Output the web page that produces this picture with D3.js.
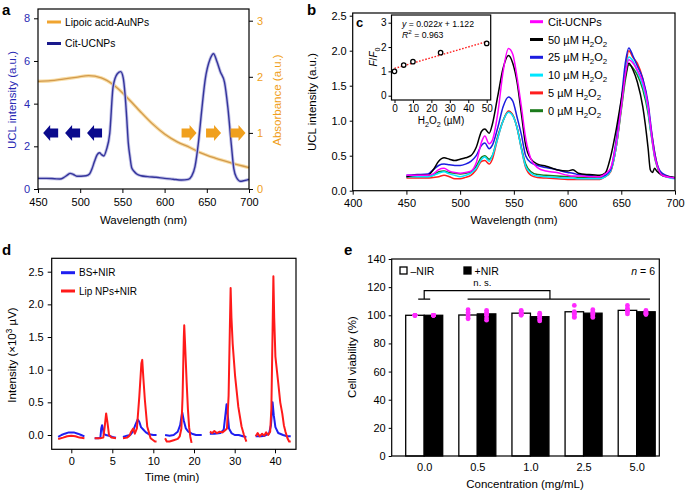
<!DOCTYPE html>
<html>
<head>
<meta charset="utf-8">
<script src="https://cdnjs.cloudflare.com/ajax/libs/d3/7.8.5/d3.min.js"></script>
<style>
  body { margin: 0; background: #fff; }
  svg { font-family: "Liberation Sans", Arial, sans-serif; }
</style>
</head>
<body>
<script>
// ---- panel a: UCL spectrum of Cit-UCNPs + absorbance of AuNPs
const ucnpWl  = [450,460,470,476,481,485,488,492,496,501,507,511,514,517,520,523,525,528,531,535,539,544,548,551,553,555,557,559,561,564,567,572,580,590,600,610,620,628,632,636,640,644,648,654,658,662,666,671,675,679,682,685,690,695,700];
const ucnpVal = [0.5,0.5,0.48,0.47,0.55,0.66,0.73,0.68,0.6,0.6,0.62,0.7,0.95,1.3,1.6,1.7,1.62,1.55,1.83,2.6,4.8,5.4,5.5,5.2,4.5,3.4,2.15,1.5,1.0,0.82,0.7,0.62,0.58,0.55,0.5,0.46,0.42,0.45,0.6,1.05,2.15,3.7,5.1,6.1,6.34,5.97,5.5,5.0,3.8,2.1,0.95,0.55,0.36,0.4,0.45];
const auWl  = [450,465,480,495,510,525,540,555,570,585,600,615,630,642,660,680,700];
const auAbs = [1.92,1.93,1.96,1.99,2.02,1.98,1.85,1.64,1.4,1.17,0.98,0.84,0.74,0.65,0.55,0.46,0.38];
const blueArrowWl = [465, 491, 517];
const orangeArrowWl = [629, 658, 687];

// ---- panel b: spectra with H2O2
const specWl = [450,460,470,475,480,485,490,495,500,505,510,515,520,523,527,530,535,540,545,549,553,557,561,566,572,580,590,600,605,610,620,630,635,640,645,650,654,657,661,665,670,675,677,679,681,683,688,700];
const specCit = [0.22,0.22,0.22,0.24,0.3,0.32,0.28,0.26,0.25,0.26,0.28,0.4,0.7,0.78,0.67,0.72,1.1,1.7,2.03,1.95,1.62,1.2,0.75,0.45,0.33,0.28,0.26,0.22,0.21,0.21,0.2,0.2,0.24,0.32,0.65,1.2,1.68,1.87,1.82,1.72,1.55,1.2,0.95,0.7,0.5,0.38,0.22,0.18];
const spec50  = [0.2,0.22,0.22,0.3,0.42,0.47,0.45,0.43,0.45,0.47,0.5,0.62,0.85,0.88,0.82,0.95,1.35,1.75,1.93,1.82,1.55,1.1,0.65,0.45,0.38,0.35,0.3,0.28,0.3,0.25,0.23,0.22,0.25,0.48,0.85,1.3,1.65,1.82,1.72,1.55,1.2,0.6,0.3,0.26,0.32,0.28,0.22,0.19];
const spec25  = [0.22,0.23,0.24,0.3,0.36,0.38,0.37,0.36,0.36,0.38,0.42,0.5,0.65,0.68,0.6,0.65,0.9,1.2,1.34,1.28,1.05,0.8,0.5,0.4,0.36,0.33,0.3,0.26,0.25,0.23,0.22,0.2,0.22,0.3,0.7,1.3,1.85,2.04,1.92,1.78,1.6,1.25,1.0,0.75,0.55,0.4,0.25,0.18];
const spec10  = [0.2,0.2,0.2,0.22,0.25,0.27,0.24,0.22,0.2,0.22,0.25,0.32,0.45,0.48,0.42,0.5,0.75,1.0,1.12,1.07,0.9,0.6,0.35,0.25,0.21,0.2,0.19,0.18,0.18,0.17,0.17,0.17,0.2,0.28,0.6,1.2,1.7,1.91,1.85,1.7,1.5,1.15,0.9,0.7,0.5,0.38,0.22,0.17];
const spec5   = [0.18,0.18,0.18,0.19,0.2,0.22,0.2,0.17,0.17,0.19,0.22,0.3,0.42,0.43,0.38,0.45,0.75,1.0,1.14,1.08,0.9,0.6,0.33,0.22,0.19,0.18,0.17,0.16,0.16,0.16,0.16,0.16,0.2,0.27,0.6,1.2,1.75,2.0,1.9,1.82,1.6,1.2,0.95,0.75,0.55,0.4,0.22,0.18];
const spec0   = [0.2,0.2,0.2,0.22,0.27,0.28,0.26,0.25,0.24,0.25,0.27,0.35,0.48,0.5,0.45,0.5,0.78,1.0,1.13,1.08,0.9,0.62,0.38,0.27,0.23,0.22,0.21,0.2,0.2,0.19,0.19,0.18,0.2,0.28,0.6,1.15,1.6,1.8,1.75,1.65,1.45,1.1,0.88,0.68,0.48,0.36,0.22,0.18];
const specNames  = ["Cit-UCNPs", "50", "25", "10", "5", "0"];
const specColors = ["#ff00ff", "#000000", "#1c1ce0", "#00e6ff", "#ff1e1e", "#1b7a1b"];

// ---- inset c: F/F0 vs H2O2
const h2o2Conc = [0, 5, 10, 25, 50];
const ratioF   = [1.0, 1.26, 1.4, 1.77, 2.15];
const fitSlope = 0.022, fitIntercept = 1.122;

// ---- panel d: traces, [time, value]
const bsTraces = [
  [[-1.6,-0.03],[-1.2,0.0],[-0.8,0.02],[-0.3,0.04],[0.3,0.04],[0.8,0.02],[1.2,0.0],[1.6,-0.02]],
  [[2.85,-0.05],[3.3,-0.05],[3.55,-0.04],[3.65,0.1],[3.75,0.15],[3.85,0.1],[3.95,0.02],[4.2,0.0],[4.6,-0.01],[5.0,-0.03],[5.45,-0.04]],
  [[6.3,-0.03],[6.8,-0.01],[7.2,0.0],[7.5,0.05],[7.8,0.15],[8.1,0.24],[8.3,0.2],[8.5,0.12],[8.8,0.08],[9.1,0.04],[9.5,0.01],[10,0.0],[10.8,0.0]],
  [[12.9,0.0],[14,-0.01],[15,0.0],[16,0.05],[16.6,0.15],[17.1,0.35],[17.5,0.22],[18,0.1],[18.6,0.05],[19.5,0.02],[20.5,0.0],[21.9,0.0]],
  [[23.9,0.02],[25,0.02],[26.5,0.03],[27.3,0.08],[27.7,0.3],[28.0,0.47],[28.3,0.3],[28.6,0.1],[29.2,0.03],[30,0.0],[31,0.0],[32,-0.02],[32.9,-0.03]],
  [[35.2,-0.02],[36.5,-0.02],[37.5,-0.01],[38.5,0.02],[39,0.15],[39.4,0.5],[39.7,0.3],[40.1,0.12],[40.8,0.03],[42,0.0],[43,-0.02],[43.9,-0.02]]
];
const lipTraces = [
  [[-1.6,-0.06],[-1.0,-0.04],[-0.5,-0.02],[0,-0.01],[0.5,-0.02],[1.0,-0.04],[1.6,-0.05]],
  [[2.85,-0.05],[3.5,-0.05],[3.9,-0.04],[4.05,0.1],[4.25,0.33],[4.4,0.2],[4.6,0.0],[4.9,-0.04],[5.45,-0.05]],
  [[6.3,-0.05],[6.8,-0.04],[7.1,-0.01],[7.3,0.05],[7.55,0.1],[7.75,0.02],[8.0,0.1],[8.3,0.6],[8.55,1.1],[8.65,1.15],[8.8,0.85],[8.97,0.54],[9.26,0.13],[9.67,-0.05],[10,-0.08],[10.4,-0.1],[10.8,-0.1]],
  [[12.9,-0.05],[13.3,-0.1],[14,-0.1],[15,-0.08],[16,-0.06],[16.5,-0.02],[16.9,0.1],[17.2,0.6],[17.5,1.5],[17.6,1.68],[17.8,1.4],[18.2,0.8],[18.5,0.4],[18.8,0.12],[19.1,-0.03],[19.4,-0.12]],
  [[23.9,0.05],[24.5,0.03],[25,0.06],[25.6,0.03],[26.3,0.05],[27,0.04],[27.6,0.07],[28.1,0.1],[28.5,0.6],[28.8,1.6],[29.0,2.25],[29.2,1.8],[29.5,1.4],[30.1,0.9],[30.9,0.43],[31.7,0.13],[32.3,0.0],[32.9,-0.1]],
  [[35.2,-0.02],[35.7,0.03],[36.2,-0.02],[36.8,0.02],[37.3,-0.01],[37.8,0.04],[38.3,0.0],[38.8,0.05],[39.1,0.4],[39.4,1.6],[39.6,2.43],[39.8,1.8],[40.1,1.2],[40.8,0.8],[41.3,0.5],[41.8,0.33],[42.2,0.15],[42.6,0.05],[43.1,-0.05],[43.5,-0.1],[43.9,-0.1]]
];
const timeTicks = [0, 5, 10, 20, 30, 40];

// ---- panel e: cell viability
const concCats = ["0.0", "0.5", "1.0", "2.5", "5.0"];
const viabNoNir = [100, 100.2, 101.5, 102.5, 103.5];
const viabNir   = [100, 101, 99, 101.5, 102.5];
const dotsNoNir = [[100,100,100,100,100,100],[104,102,100.5,99.5,98,97.5],[103.5,102.5,101.5,101,100.5,100],[107,102.5,101.5,100.5,99,98.5],[107,105,104,103,102.5,101]];
const dotsNir   = [[100,100,100,100,100,100],[103.5,102,101,100,98,96.5],[101.5,100.5,99,98.5,97,96],[104,102.5,101.5,100.5,99.5,98.5],[103.5,102.5,102,101.5,101,100.5]];

const svg = d3.select("body").append("svg").attr("width", 685).attr("height", 490);

// text with sub/superscripts: parts = [[text, mode]]
function rich(t, parts) {
  let shift = 0;
  parts.forEach(([s, m]) => {
    const sp = t.append("tspan").text(s);
    const target = m === "sub" ? 3 : m === "sup" ? -4 : 0;
    if (target - shift) sp.attr("dy", target - shift);
    shift = target;
    if (m === "sub" || m === "sup") sp.attr("font-size", "72%");
    if (m === "i") sp.attr("font-style", "italic");
  });
  return t;
}

function label(g, x, y, size, opts = {}) {
  const t = g.append("text").attr("x", x).attr("y", y).attr("font-size", size)
    .attr("text-anchor", opts.anchor || "start").attr("fill", opts.fill || "#000");
  if (opts.rotate) t.attr("transform", `rotate(-90,${x},${y})`);
  if (opts.bold) t.attr("font-weight", "bold");
  return t;
}

function styleAxis(g, color, size) {
  g.select(".domain").remove();
  g.selectAll(".tick line").attr("stroke", "#000").attr("stroke-width", 1);
  g.selectAll(".tick text").attr("fill", color).attr("font-size", size)
    .attr("font-family", "Liberation Sans, Arial, sans-serif");
}

function box(g, x0, y0, x1, y1, fill) {
  g.append("rect").attr("x", x0).attr("y", y0).attr("width", x1 - x0).attr("height", y1 - y0)
    .attr("fill", fill || "none").attr("stroke", "#000").attr("stroke-width", 1.2);
}

const fmtInt = d3.format("d"), fmt1 = d3.format(".1f");

// ================= panel a =================
{
  const g = svg.append("g");
  const x = d3.scaleLinear().domain([450, 700]).range([38, 249]);
  const yL = d3.scaleLinear().domain([0, 8]).range([189, 18.3]);
  const yR = d3.scaleLinear().domain([0, 3]).range([189, 20.7]);
  const blueTxt = "#2a2ab4", orangeTxt = "#f0a020";

  const au = d3.zip(auWl, auAbs);
  const lineR = d3.line().x(d => x(d[0])).y(d => yR(d[1])).curve(d3.curveMonotoneX);
  g.append("path").datum(au).attr("d", lineR).attr("fill", "none").attr("stroke", "#f8dca4").attr("stroke-width", 3.4);
  g.append("path").datum(au).attr("d", lineR).attr("fill", "none").attr("stroke", "#d29a4c").attr("stroke-width", 1.3);

  const uc = d3.zip(ucnpWl, ucnpVal);
  const lineL = d3.line().x(d => x(d[0])).y(d => yL(d[1])).curve(d3.curveMonotoneX);
  g.append("path").datum(uc).attr("d", lineL).attr("fill", "none").attr("stroke", "#c2c2e6").attr("stroke-width", 3.2);
  g.append("path").datum(uc).attr("d", lineL).attr("fill", "none").attr("stroke", "#34349c").attr("stroke-width", 1.4);

  const arrowL = "M-7.5,0L-0.5,-8L-0.5,-4.5L7.5,-4.5L7.5,4.5L-0.5,4.5L-0.5,8Z";
  const arrowR = "M7.5,0L0.5,-8L0.5,-4.5L-7.5,-4.5L-7.5,4.5L0.5,4.5L0.5,8Z";
  g.selectAll(".ab").data(blueArrowWl).join("path").attr("d", arrowL)
    .attr("transform", d => `translate(${x(d)},${yR(1)})`).attr("fill", "#0a0a8c");
  g.selectAll(".ao").data(orangeArrowWl).join("path").attr("d", arrowR)
    .attr("transform", d => `translate(${x(d)},${yR(1)})`).attr("fill", "#f0a01e");

  box(g, 38, 9, 249, 189);
  g.append("g").attr("transform", "translate(0,189)")
    .call(d3.axisBottom(x).tickValues(d3.range(450, 701, 50)).tickFormat(fmtInt).tickSize(4).tickPadding(5))
    .call(a => styleAxis(a, "#000", 11));
  g.append("g").attr("transform", "translate(38,0)")
    .call(d3.axisLeft(yL).tickValues([0, 2, 4, 6, 8]).tickFormat(fmtInt).tickSize(4).tickPadding(4))
    .call(a => styleAxis(a, blueTxt, 11));
  g.append("g").attr("transform", "translate(249,0)")
    .call(d3.axisRight(yR).tickValues([0, 1, 2, 3]).tickFormat(fmtInt).tickSize(4).tickPadding(4))
    .call(a => styleAxis(a, orangeTxt, 11));

  label(g, 143.5, 224, 11.5, { anchor: "middle" }).text("Wavelength (nm)");
  label(g, 16, 100, 11.5, { anchor: "middle", rotate: true, fill: blueTxt }).text("UCL intensity (a.u.)");
  label(g, 281, 100, 11.5, { anchor: "middle", rotate: true, fill: orangeTxt }).text("Absorbance (a.u.)");

  g.append("line").attr("x1", 47).attr("x2", 61).attr("y1", 22).attr("y2", 22).attr("stroke", "#f0a430").attr("stroke-width", 3);
  label(g, 65, 25.5, 10.3).text("Lipoic acid-AuNPs");
  g.append("line").attr("x1", 47).attr("x2", 61).attr("y1", 43.5).attr("y2", 43.5).attr("stroke", "#1a1a8c").attr("stroke-width", 3);
  label(g, 65, 47, 10.3).text("Cit-UCNPs");

  label(g, 2, 15, 15, { bold: true }).text("a");
}

// ================= panel b + inset c =================
{
  const g = svg.append("g");
  const x = d3.scaleLinear().domain([400, 700]).range([352.7, 675]);
  const y = d3.scaleLinear().domain([0, 2.5]).range([190.7, 15.7]);
  const series = [specCit, spec50, spec25, spec10, spec5, spec0];
  const line = d3.line().x(d => x(d[0])).y(d => y(d[1])).curve(d3.curveMonotoneX);
  // back-to-front: 0, 5, 10, 25, 50, Cit
  [5, 4, 3, 2, 1, 0].forEach(i => {
    g.append("path").datum(d3.zip(specWl, series[i])).attr("d", line)
      .attr("fill", "none").attr("stroke", specColors[i]).attr("stroke-width", 1.5);
  });

  box(g, 352.7, 13, 675, 190.7);
  g.append("g").attr("transform", "translate(0,190.7)")
    .call(d3.axisBottom(x).tickValues(d3.range(400, 701, 50)).tickFormat(fmtInt).tickSize(4).tickPadding(5))
    .call(a => styleAxis(a, "#000", 11));
  g.append("g").attr("transform", "translate(352.7,0)")
    .call(d3.axisLeft(y).tickValues(d3.range(0, 2.51, 0.5)).tickFormat(fmt1).tickSize(3).tickPadding(3))
    .call(a => styleAxis(a, "#000", 11));
  label(g, 514, 224, 11.5, { anchor: "middle" }).text("Wavelength (nm)");
  label(g, 316, 102, 11.5, { anchor: "middle", rotate: true }).text("UCL intensity (a.u.)");

  // legend
  specNames.forEach((n, i) => {
    const yy = 21.7 + i * 17.8;
    g.append("line").attr("x1", 530).attr("x2", 543).attr("y1", yy).attr("y2", yy)
      .attr("stroke", specColors[i]).attr("stroke-width", 3);
    const t = label(g, 548, yy + 4, 11);
    if (i === 0) t.text(n);
    else rich(t, [[n + " \u00b5M H"], ["2", "sub"], ["O"], ["2", "sub"]]);
  });

  // inset
  const xc = d3.scaleLinear().domain([0, 50]).range([394.5, 486.7]);
  const yc = d3.scaleLinear().domain([0, 3]).range([95.7, 22.7]);
  box(g, 391.5, 15, 490.7, 100, "#fff");
  g.append("line").attr("x1", xc(0)).attr("x2", xc(50))
    .attr("y1", yc(fitIntercept)).attr("y2", yc(fitIntercept + fitSlope * 50))
    .attr("stroke", "#ff2020").attr("stroke-width", 1.4).attr("stroke-dasharray", "1.6,1.6");
  g.selectAll(".pt").data(d3.zip(h2o2Conc, ratioF)).join("circle")
    .attr("cx", d => xc(d[0])).attr("cy", d => yc(d[1])).attr("r", 2.2)
    .attr("fill", "#fff").attr("stroke", "#000").attr("stroke-width", 1.3);
  g.append("g").attr("transform", "translate(0,100)")
    .call(d3.axisBottom(xc).tickValues(d3.range(0, 51, 10)).tickFormat(fmtInt).tickSize(3).tickPadding(2))
    .call(a => styleAxis(a, "#000", 10));
  g.append("g").attr("transform", "translate(391.5,0)")
    .call(d3.axisLeft(yc).tickValues([0, 1, 2, 3]).tickFormat(fmtInt).tickSize(3).tickPadding(2))
    .call(a => styleAxis(a, "#000", 10));
  rich(label(g, 402, 26.5, 8.7), [["y", "i"], [" = 0.022"], ["x", "i"], [" + 1.122"]]);
  rich(label(g, 402, 38, 8.7), [["R", "i"], ["2", "sup"], [" = 0.963"]]);
  rich(label(g, 377, 57, 10, { anchor: "middle", rotate: true }), [["F", "i"], ["/"], ["F", "i"], ["0", "sub"]]);
  rich(label(g, 441, 124, 10, { anchor: "middle" }), [["H"], ["2", "sub"], ["O"], ["2", "sub"], [" (\u00b5M)"]]);

  label(g, 307, 15, 15, { bold: true }).text("b");
  label(g, 356, 27, 13, { bold: true }).text("c");
}

// ================= panel d =================
{
  const g = svg.append("g");
  const x = d3.scaleLinear().domain(timeTicks).range([71.3, 112.3, 153.3, 194, 234.7, 275]);
  const y = d3.scaleLinear().domain([0, 2.5]).range([435, 271.7]);
  const line = d3.line().x(d => x(d[0])).y(d => y(d[1]));
  bsTraces.forEach(s => g.append("path").datum(s).attr("d", line).attr("fill", "none")
    .attr("stroke", "#1f1ff0").attr("stroke-width", 2).attr("stroke-linejoin", "round"));
  lipTraces.forEach(s => g.append("path").datum(s).attr("d", line).attr("fill", "none")
    .attr("stroke", "#ff1a1a").attr("stroke-width", 2).attr("stroke-linejoin", "round"));

  box(g, 51.7, 258.3, 296, 449.3);
  g.append("g").attr("transform", "translate(0,449.3)")
    .call(d3.axisBottom(x).tickValues(timeTicks).tickFormat(fmtInt).tickSize(4).tickPadding(4))
    .call(a => styleAxis(a, "#000", 11));
  g.append("g").attr("transform", "translate(51.7,0)")
    .call(d3.axisLeft(y).tickValues(d3.range(0, 2.51, 0.5)).tickFormat(fmt1).tickSize(4).tickPadding(4))
    .call(a => styleAxis(a, "#000", 11));
  label(g, 172, 481, 11.5, { anchor: "middle" }).text("Time (min)");
  rich(label(g, 16, 355, 11.5, { anchor: "middle", rotate: true }), [["Intensity (\u00d710"], ["3", "sup"], [" \u00b5V)"]]);

  g.append("line").attr("x1", 61).attr("x2", 75).attr("y1", 272.7).attr("y2", 272.7).attr("stroke", "#1f1ff0").attr("stroke-width", 3);
  label(g, 79, 276.3, 10).text("BS+NIR");
  g.append("line").attr("x1", 61).attr("x2", 75).attr("y1", 291).attr("y2", 291).attr("stroke", "#ff1a1a").attr("stroke-width", 3);
  label(g, 79, 294.6, 10).text("Lip NPs+NIR");

  label(g, 2, 255, 15, { bold: true }).text("d");
}

// ================= panel e =================
{
  const g = svg.append("g");
  const x = d3.scalePoint().domain(concCats).range([424.2, 636.7]);
  const y = d3.scaleLinear().domain([0, 140]).range([456, 259]);
  const bw = 18.5;

  g.selectAll(".bw").data(concCats).join("rect")
    .attr("x", d => x(d) - bw).attr("width", bw)
    .attr("y", (d, i) => y(viabNoNir[i])).attr("height", (d, i) => y(0) - y(viabNoNir[i]))
    .attr("fill", "#fff").attr("stroke", "#000").attr("stroke-width", 1.3);
  g.selectAll(".bk").data(concCats).join("rect")
    .attr("x", d => x(d)).attr("width", bw)
    .attr("y", (d, i) => y(viabNir[i])).attr("height", (d, i) => y(0) - y(viabNir[i]))
    .attr("fill", "#000").attr("stroke", "#000").attr("stroke-width", 1.3);

  concCats.forEach((c, i) => {
    dotsNoNir[i].forEach(v => g.append("circle").attr("cx", x(c) - bw / 2).attr("cy", y(v)).attr("r", 2.4).attr("fill", "#ff2aff"));
    dotsNir[i].forEach(v => g.append("circle").attr("cx", x(c) + bw / 2).attr("cy", y(v)).attr("r", 2.4).attr("fill", "#ff2aff"));
  });

  // significance bracket
  const x0 = x("0.0"), lo = y(111.5), hi = y(117.5);
  const longStart = x("0.5") - bw / 2 - 0.5, longEnd = x("5.0") + bw / 2 + 4;
  const mid = x("1.0") + bw + 1;
  const br = g.append("g").attr("stroke", "#000").attr("stroke-width", 1.2).attr("fill", "none");
  br.append("path").attr("d", `M${x0 - 6},${lo}H${x0 + 6}M${x0},${lo}V${hi}H${mid}V${lo}M${longStart},${lo}H${longEnd}`);
  label(g, x("0.5") + 5, 286, 9.5, { anchor: "middle" }).text("n. s.");

  box(g, 391.7, 259, 659.3, 456);
  g.append("g").attr("transform", "translate(0,456)")
    .call(d3.axisBottom(x).tickSize(0).tickPadding(7))
    .call(a => styleAxis(a, "#000", 11));
  g.append("g").attr("transform", "translate(391.7,0)")
    .call(d3.axisLeft(y).tickValues(d3.range(0, 141, 20)).tickFormat(fmtInt).tickSize(3).tickPadding(3))
    .call(a => styleAxis(a, "#000", 11));
  label(g, 525, 487.5, 11.5, { anchor: "middle" }).text("Concentration (mg/mL)");
  label(g, 356, 357, 11.5, { anchor: "middle", rotate: true }).text("Cell viability (%)");

  g.append("rect").attr("x", 400).attr("y", 267).attr("width", 7).attr("height", 7).attr("fill", "#fff").attr("stroke", "#000").attr("stroke-width", 1.3);
  label(g, 410.5, 274.5, 10.5).text("\u2013NIR");
  g.append("rect").attr("x", 464).attr("y", 267).attr("width", 7).attr("height", 7).attr("fill", "#000").attr("stroke", "#000").attr("stroke-width", 1.3);
  label(g, 474.5, 274.5, 10.5).text("+NIR");
  rich(label(g, 655, 274.5, 10.5, { anchor: "end" }), [["n", "i"], [" = 6"]]);

  label(g, 344, 255, 15, { bold: true }).text("e");
}
</script>
</body>
</html>
